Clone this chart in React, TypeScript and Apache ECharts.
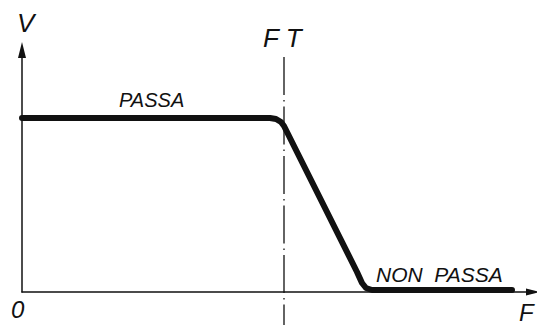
import React, { useEffect, useRef } from "react";
import * as echarts from "echarts";

// Response curve (F, V) in chart units
const curveF = [0, 49.6, 50.8, 51.8, 52.4, 53, 67, 68, 68.8, 70, 98];
const curveV = [69.6, 69.6, 69.2, 68, 66.4, 64, 8, 3.6, 1.6, 0.8, 0.8];
// Cut-off frequency marker FT
const ftF = [52.4, 52.4];
const ftV = [94, -13.2];

const labels = {
  v: "V",
  f: "F",
  zero: "0",
  ft: "F T",
  pass: "PASSA",
  stop: "NON\u00a0\u00a0PASSA",
};

export default function App() {
  const ref = useRef<HTMLDivElement>(null);
  useEffect(() => {
    if (!ref.current) return;
    const chart = echarts.init(ref.current, undefined, { renderer: "svg" });
    const font = "'Liberation Sans', Arial, sans-serif";
    const txt = (text: string, left: number, top: number, size: number) => ({
      type: "text",
      left,
      top,
      style: {
        text,
        fill: "#111",
        font: `italic ${size}px ${font}`,
      },
    });
    const arrow = "path://M5,0 L10,20 L0,20 Z";
    const axisCommon = {
      type: "value",
      min: 0,
      splitLine: { show: false },
      axisTick: { show: false },
      axisLabel: { show: false },
    };
    chart.setOption({
      animation: false,
      backgroundColor: "#fff",
      grid: { left: 22, right: 4, top: 50, bottom: 33 },
      xAxis: {
        ...axisCommon,
        max: 102.2,
        axisLine: {
          show: true,
          onZero: false,
          symbol: ["none", arrow],
          symbolSize: [8, 14],
          lineStyle: { color: "#111", width: 1.5 },
        },
      },
      yAxis: {
        ...axisCommon,
        max: 96.8,
        axisLine: {
          show: true,
          onZero: false,
          symbol: ["none", arrow],
          symbolSize: [8, 16],
          lineStyle: { color: "#111", width: 1.5 },
        },
      },
      series: [
        {
          type: "line",
          data: curveF.map((f, i) => [f, curveV[i]]),
          showSymbol: false,
          symbol: "none",
          lineStyle: { color: "#111", width: 6, join: "round", cap: "round" },
          smooth: false,
          z: 3,
        },
        {
          type: "line",
          data: ftF.map((f, i) => [f, ftV[i]]),
          showSymbol: false,
          symbol: "none",
          clip: false,
          lineStyle: { color: "#111", width: 1.3, type: [38, 5, 1.5, 5] },
          z: 2,
        },
      ],
      graphic: [
        txt(labels.v, 17, 10, 26),
        txt(labels.ft, 263, 25, 26),
        txt(labels.zero, 11, 297, 24),
        txt(labels.f, 519, 300, 24),
        txt(labels.pass, 119, 90, 20),
        txt(labels.stop, 376, 264, 21),
      ],
    });
    return () => chart.dispose();
  }, []);
  return <div ref={ref} style={{ width: 537, height: 325, position: "absolute", left: 0, top: 0 }} />;
}
